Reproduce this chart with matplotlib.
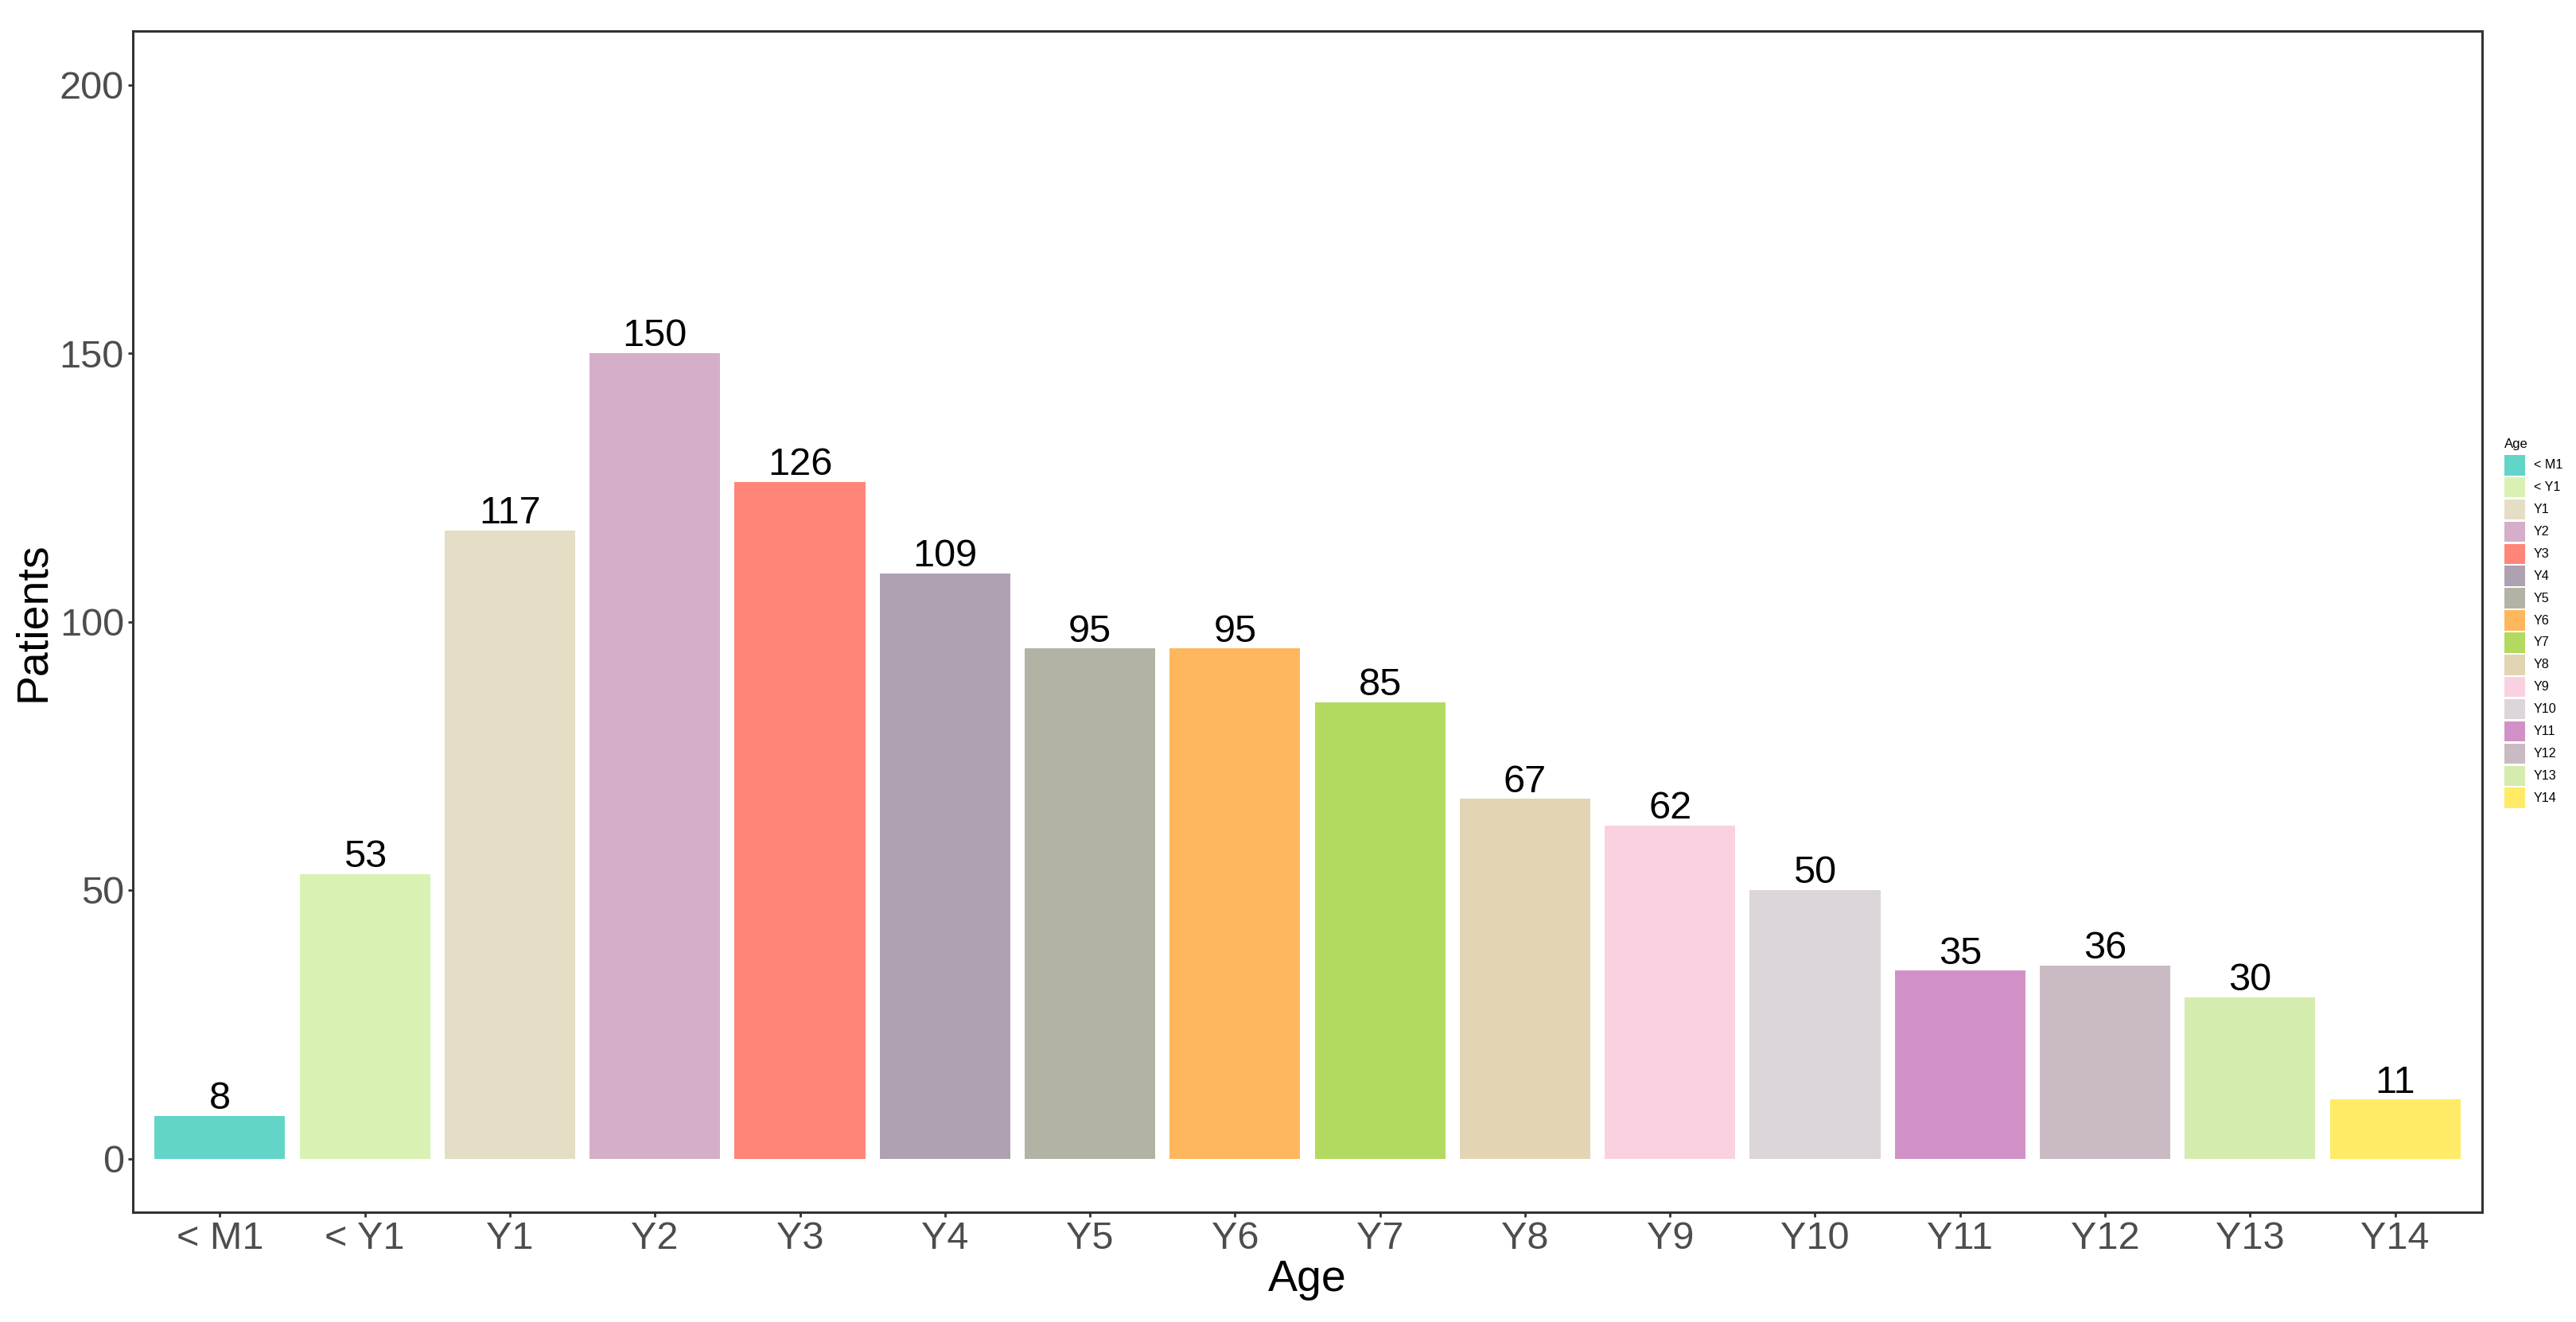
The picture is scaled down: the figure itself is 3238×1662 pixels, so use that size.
import numpy as np
import matplotlib.pyplot as plt

plt.rcParams['font.family'] = ['Liberation Sans', 'DejaVu Sans']

ages = ['< M1', '< Y1', 'Y1', 'Y2', 'Y3', 'Y4', 'Y5', 'Y6', 'Y7', 'Y8',
        'Y9', 'Y10', 'Y11', 'Y12', 'Y13', 'Y14']
patients = [8, 53, 117, 150, 126, 109, 95, 95, 85, 67, 62, 50, 35, 36, 30, 11]
colors = ['#63D5C8', '#D9F2B4', '#E3DEC5', '#D5AEC9', '#FF8578', '#AEA1B2',
          '#B3B3A5', '#FFB75E', '#B3DA60', '#E3D4B3', '#FAD1E1', '#DCD5D9',
          '#D291C6', '#CABAC3', '#D4ECAD', '#FFEB66']

W, H = 3238, 1662


def main():
    fig = plt.figure(figsize=(W / 200, H / 200), dpi=200)
    ax = fig.add_axes([167 / W, 1 - 1524 / H, (3120 - 167) / W, (1524 - 39) / H])

    x = np.arange(1, len(ages) + 1)
    bars = ax.bar(x, patients, width=0.9, color=colors)
    ax.bar_label(bars, labels=[str(p) for p in patients], padding=-0.5,
                 fontsize=17.5, color='black')

    ax.set_xlim(0.4, len(ages) + 0.6)
    ax.set_ylim(-10, 210)
    ax.set_xticks(x)
    ax.set_xticklabels(ages)
    ax.set_yticks([0, 50, 100, 150, 200])
    ax.tick_params(axis='both', labelsize=17.5, labelcolor='#4D4D4D',
                   color='#333333', length=2, width=1, pad=2)
    for s in ax.spines.values():
        s.set_color('#333333')
        s.set_linewidth(1.1)
    ax.set_xlabel('Age', fontsize=20, color='black', labelpad=1)
    ax.set_ylabel('Patients', fontsize=20, color='black', labelpad=2.5)

    # legend drawn by hand in pixel coordinates, like ggplot's guide
    lax = fig.add_axes([3140 / W, 1 - 1030 / H, 98 / W, (1030 - 540) / H])
    lax.set_xlim(3140, 3238)
    lax.set_ylim(1030, 540)
    lax.axis('off')
    lax.text(3148, 563, 'Age', fontsize=6, va='baseline', ha='left', color='black')
    for i, (lab, c) in enumerate(zip(ages, colors)):
        top = 572 + i * 27.9
        lax.add_patch(plt.Rectangle((3148, top), 25.5, 25.5, facecolor=c,
                                    edgecolor='none'))
        lax.text(3185, top + 12.8, lab, fontsize=5.8, va='center', ha='left',
                 color='black')

    fig.savefig('out.png', dpi=200)


if __name__ == "__main__":
    main()
